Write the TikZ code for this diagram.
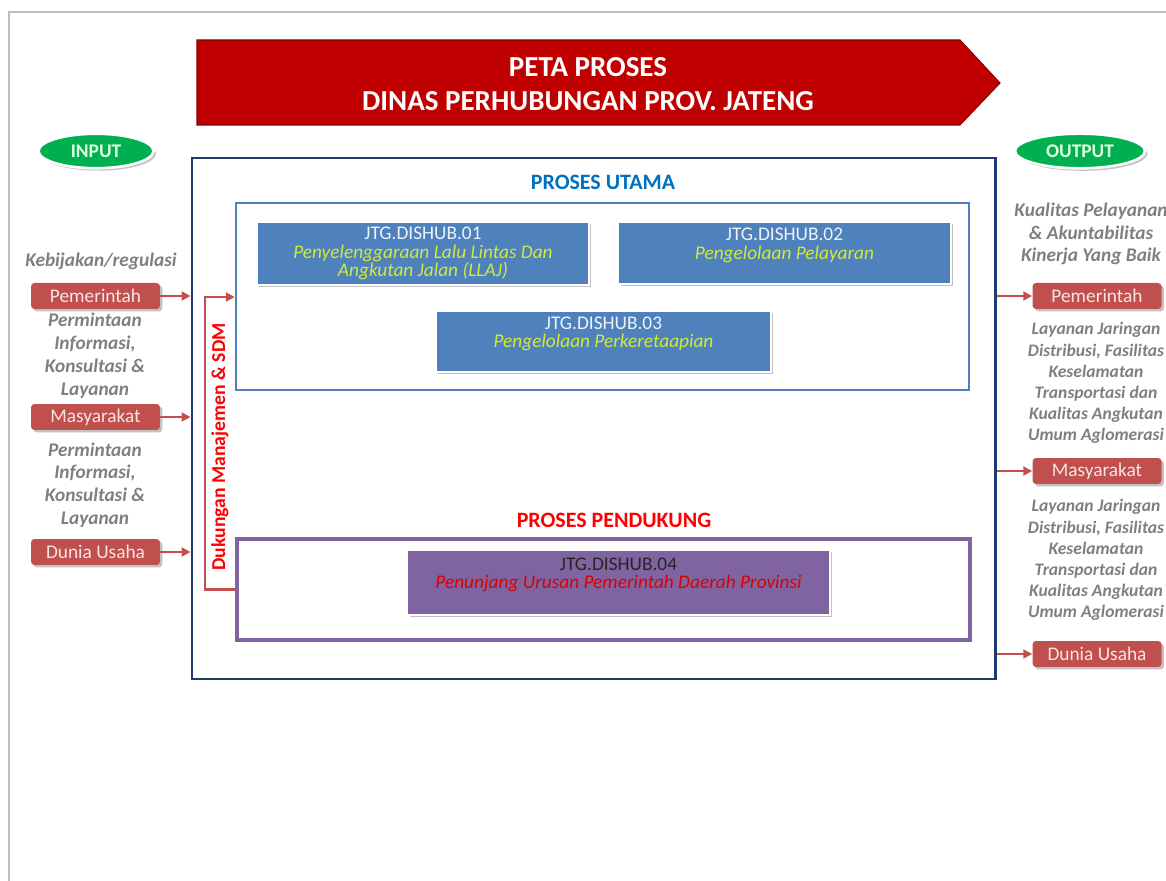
\documentclass[tikz,border=0pt]{standalone}
\usepackage{fontspec}
\setmainfont{Carlito}
\usepackage{tikz}
\usetikzlibrary{arrows.meta,positioning,fit,shadows,shapes.geometric}
\definecolor{bannerred}{HTML}{C00000}
\definecolor{iogreen}{HTML}{00B050}
\definecolor{navy}{HTML}{1F3A6E}
\definecolor{procblue}{HTML}{4F81BD}
\definecolor{utamablue}{HTML}{0070C0}
\definecolor{procpurple}{HTML}{8064A2}
\definecolor{lime}{HTML}{CFEA3A}
\definecolor{redbox}{HTML}{C0504D}
\definecolor{pinktxt}{HTML}{F7E4E3}
\definecolor{txtgray}{HTML}{7F7F7F}
\newcommand{\fs}[2]{\fontsize{#1}{#2}\selectfont}

\begin{document}
\begin{tikzpicture}[x=0.02cm,y=-0.02cm,
  boxshadow/.style={drop shadow={shadow xshift=1.4pt,shadow yshift=-1.4pt,fill=black!40,opacity=.6}},
  ioellipse/.style={ellipse,fill=iogreen,draw=white,line width=1.5pt,boxshadow,
    minimum height=0.6cm,text=white!88!green,font=\bfseries\fs{11}{12}},
  actor/.style={fill=redbox,rounded corners=2pt,boxshadow,text=pinktxt,
    minimum width=2.58cm,minimum height=0.52cm,inner sep=0pt,font=\fs{11}{12}},
  graytxt/.style={text=txtgray,align=center,font=\bfseries\itshape\fs{11}{13}},
  graysmall/.style={text=txtgray,align=center,font=\bfseries\itshape\fs{10}{12}},
  procbox/.style={fill=procblue,draw=white,line width=1.5pt,boxshadow,inner sep=0pt,
    align=center,text=white!90!procblue,font=\fs{11}{10.6}},
  flowarrow/.style={-{Triangle[length=5pt,width=5pt]},redbox,line width=1.2pt},
]
\useasboundingbox (0,0) rectangle (1166,881);
% page border
\draw[black!25,line width=0.8pt] (9,881) -- (9,12) -- (1166,12);

% title banner
\fill[bannerred,draw=bannerred!70!black,line width=0.6pt]
  (197,40) -- (960,40) -- (1000,83) -- (960,125) -- (197,125) -- cycle;
\node[text=white,align=center,font=\bfseries\fs{16.5}{19}] (title) at (588,84)
  {PETA PROSES\\DINAS PERHUBUNGAN PROV. JATENG};

\node[ioellipse,minimum width=2.3cm] (input) at (96,151) {INPUT};
\node[ioellipse,minimum width=2.6cm] (output) at (1080,151) {OUTPUT};

% main frame
\node[draw=navy,line width=1.7pt,inner sep=0pt,fit={(192,158)(995,679)}] (main) {};

% proses utama
\node[text=utamablue,font=\bfseries\fs{12.5}{14}] (utamatitle) at (603,182) {PROSES UTAMA};
\node[draw=procblue,line width=1.4pt,inner sep=0pt,fit={(236,203)(969,390)}] (utama) {};
\node[procbox,minimum width=6.64cm,minimum height=1.26cm] (p01) at (423,253.5)
  {JTG.DISHUB.01\\\textcolor{lime}{\itshape Penyelenggaraan Lalu Lintas Dan}\\\textcolor{lime}{\itshape Angkutan Jalan (LLAJ)}};
\node[procbox,minimum width=6.66cm,minimum height=1.24cm] (p02) at (784.5,253)
  {JTG.DISHUB.02\\\textcolor{lime}{\itshape Pengelolaan Pelayaran}\\\mbox{}};
\node[procbox,minimum width=6.7cm,minimum height=1.22cm] (p03) at (603.5,341.5)
  {JTG.DISHUB.03\\\textcolor{lime}{\itshape Pengelolaan Perkeretaapian}\\\mbox{}};

% proses pendukung
\node[text=red,font=\bfseries\fs{12.5}{14}] (pendtitle) at (614,520) {PROSES PENDUKUNG};
\node[draw=procpurple,line width=2.2pt,inner sep=0pt,fit={(237,539)(970,640)}] (pend) {};
\node[procbox,fill=procpurple,text=black!85,minimum width=8.46cm,minimum height=1.3cm] (p04) at (618.5,582.5)
  {JTG.DISHUB.04\\\textcolor{red!85!black}{\itshape Penunjang Urusan Pemerintah Daerah Provinsi}\\\mbox{}};

% dukungan manajemen
\draw[flowarrow] (pend.west) -- ++(-30,0) |- (utama.west |- 0,297);
\node[rotate=90,text=red,font=\bfseries\fs{11.2}{12}] (dukungan) at (220,447) {Dukungan Manajemen \& SDM};

% input side
\node[graytxt] (kebijakan) at (101,261) {Kebijakan/regulasi};
\node[actor] (pemIn) at (95.5,296) {Pemerintah};
\node[graytxt] (minta1) at (95,356) {Permintaan\\Informasi,\\Konsultasi \&\\Layanan};
\node[actor] (masIn) at (95.5,417) {Masyarakat};
\node[graytxt] (minta2) at (95,485) {Permintaan\\Informasi,\\Konsultasi \&\\Layanan};
\node[actor] (usahaIn) at (95.5,552) {Dunia Usaha};
\foreach \n in {pemIn,masIn,usahaIn}
  \draw[flowarrow] (\n.east) -- (\n.east -| main.west);

% output side
\node[graytxt] (kualitas) at (1091,234) {Kualitas Pelayanan\\\& Akuntabilitas\\Kinerja Yang Baik};
\node[actor] (pemOut) at (1097,296) {Pemerintah};
\node[graysmall] (layanan1) at (1096,383) {Layanan Jaringan\\Distribusi, Fasilitas\\Keselamatan\\Transportasi dan\\Kualitas Angkutan\\Umum Aglomerasi};
\node[actor] (masOut) at (1097,471) {Masyarakat};
\node[graysmall] (layanan2) at (1096,560) {Layanan Jaringan\\Distribusi, Fasilitas\\Keselamatan\\Transportasi dan\\Kualitas Angkutan\\Umum Aglomerasi};
\node[actor] (usahaOut) at (1097,654) {Dunia Usaha};
\foreach \n in {pemOut,masOut,usahaOut}
  \draw[flowarrow] (\n.west -| main.east) -- (\n.west);
\end{tikzpicture}
\end{document}
